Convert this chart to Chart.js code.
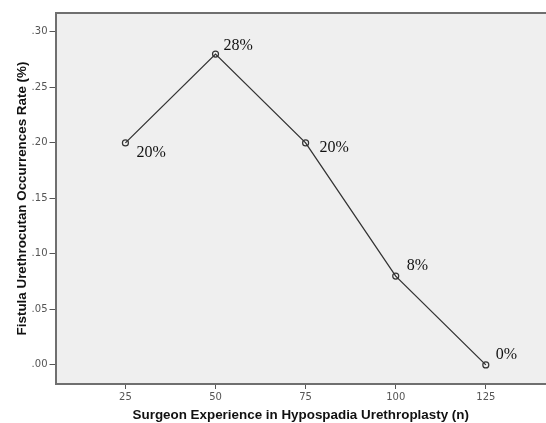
<!DOCTYPE html>
<html>
<head>
<meta charset="utf-8">
<script src="https://cdn.jsdelivr.net/npm/chart.js@4.4.1/dist/chart.umd.min.js"></script>
<style>
  html, body { margin: 0; padding: 0; background: #fff; }
  #wrap { width: 546px; height: 423px; }
</style>
</head>
<body>
<div id="wrap"><canvas id="chart" width="546" height="423"></canvas></div>
<script>
// surgeon experience (n) vs fistula rate
const experience = [25, 50, 75, 100, 125];
const fistulaRate = [0.20, 0.28, 0.20, 0.08, 0.00];
const rateLabels = ["20%", "28%", "20%", "8%", "0%"];
const xTicks = [25, 50, 75, 100, 125];
const yTicks = [0, 0.05, 0.10, 0.15, 0.20, 0.25, 0.30];
const yTickLabels = [".00", ".05", ".10", ".15", ".20", ".25", ".30"];

const axisColor = "#6f6f6f";

// grey plot background + top border
const plotBox = {
  id: "plotBox",
  beforeDraw(chart) {
    const { ctx, chartArea: a } = chart;
    ctx.save();
    ctx.fillStyle = "#efefef";
    ctx.fillRect(a.left, a.top, a.right - a.left, a.bottom - a.top);
    ctx.strokeStyle = axisColor;
    ctx.lineWidth = 2;
    ctx.beginPath();
    ctx.moveTo(a.left, a.top);
    ctx.lineTo(a.right, a.top);
    ctx.stroke();
    ctx.restore();
  }
};

// percentage labels next to each point
const pointText = {
  id: "pointText",
  afterDatasetsDraw(chart) {
    const { ctx } = chart;
    const pts = chart.getDatasetMeta(0).data;
    // offsets of label (left edge, middle) from the point
    const off = [[11, 10], [8, -8], [14, 5], [11, -10], [10, -10]];
    ctx.save();
    ctx.font = '16px "Liberation Serif"';
    ctx.fillStyle = "#111";
    ctx.textBaseline = "middle";
    ctx.textAlign = "left";
    pts.forEach((p, i) => {
      ctx.fillText(rateLabels[i], p.x + off[i][0], p.y + off[i][1]);
    });
    ctx.restore();
  }
};

const ctx = document.querySelector("#chart");
new Chart(ctx, {
  type: "line",
  data: {
    datasets: [
      {
        data: experience.map((x, i) => ({ x: x, y: fistulaRate[i] })),
        borderColor: "#333",
        borderWidth: 1.3,
        pointRadius: 3,
        pointBorderWidth: 1.2,
        pointBorderColor: "#333",
        pointBackgroundColor: "rgba(0,0,0,0)",
        tension: 0,
        fill: false,
        clip: false,
      },
    ],
  },
  options: {
    responsive: false,
    animation: false,
    devicePixelRatio: 1,
    layout: { autoPadding: false, padding: { top: 13, right: 0, left: 0, bottom: 0 } },
    plugins: {
      legend: { display: false },
      tooltip: { enabled: false },
    },
    scales: {
      x: {
        type: "linear",
        min: 5.6,
        max: 141.7,
        afterBuildTicks: (s) => { s.ticks = xTicks.map((v) => ({ value: v })); },
        afterFit: (s) => { s.height = 39; },
        grid: { drawOnChartArea: false, drawTicks: true, tickLength: 5, tickColor: "#555" },
        border: { display: true, color: axisColor, width: 2 },
        ticks: {
          color: "#555",
          font: { family: "DejaVu Sans", size: 10 },
          padding: 2,
          maxRotation: 0,
          callback: (v) => String(v),
        },
        title: {
          display: true,
          text: "Surgeon Experience in Hypospadia Urethroplasty (n)",
          color: "#111",
          font: { family: "Liberation Sans", size: 13.4, weight: "bold" },
          padding: { top: 0, bottom: 0 },
        },
      },
      y: {
        min: -0.0172,
        max: 0.317,
        afterBuildTicks: (s) => { s.ticks = yTicks.map((v) => ({ value: v })); },
        afterFit: (s) => { s.width = 55.5; },
        grid: { drawOnChartArea: false, drawTicks: true, tickLength: 6, tickColor: "#555" },
        border: { display: true, color: axisColor, width: 2 },
        ticks: {
          color: "#555",
          font: { family: "DejaVu Sans", size: 10 },
          padding: 2,
          callback: (v) => yTickLabels[yTicks.findIndex((t) => Math.abs(t - v) < 1e-6)],
        },
        title: {
          display: true,
          text: "Fistula Urethrocutan Occurrences Rate (%)",
          color: "#111",
          font: { family: "Liberation Sans", size: 13.4, weight: "bold" },
          padding: { top: 14, bottom: 0 },
        },
      },
    },
  },
  plugins: [plotBox, pointText],
});
</script>
</body>
</html>
